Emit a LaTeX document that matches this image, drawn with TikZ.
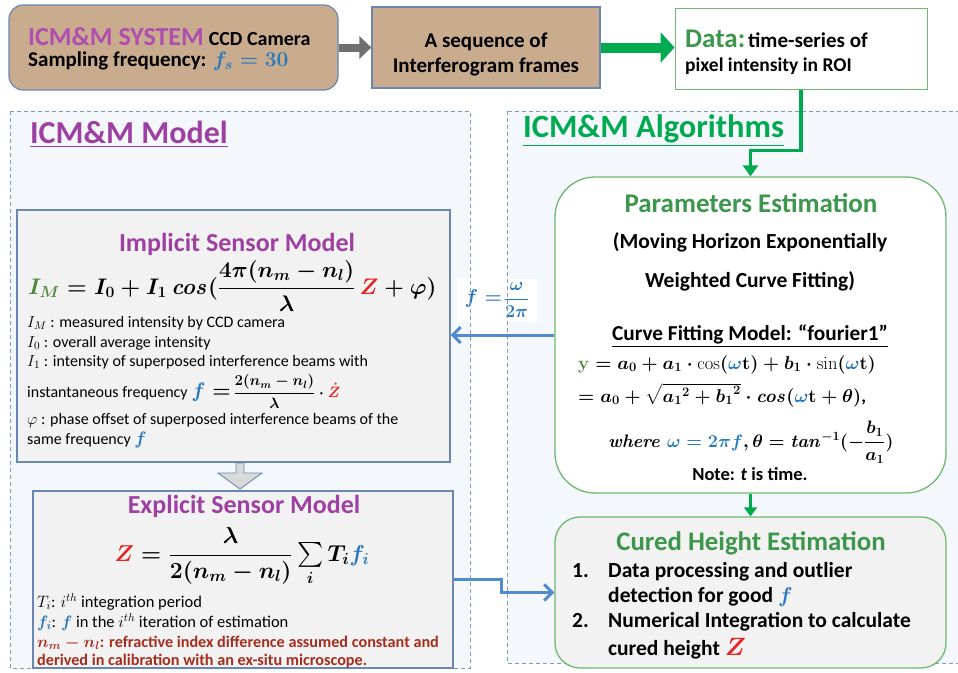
\RequirePackage{fix-cm}
\documentclass[tikz,border=0pt]{standalone}
\usepackage{amsmath}
\usepackage[no-math]{fontspec}
\setmainfont{Carlito}
\SetSymbolFont{operators}{normal}{OT1}{cmr}{bx}{n}
\SetSymbolFont{letters}{normal}{OML}{cmm}{b}{it}
\SetSymbolFont{symbols}{normal}{OMS}{cmsy}{b}{n}
\SetMathAlphabet{\mathit}{normal}{OT1}{cmr}{bx}{it}
\DeclareSymbolFont{rletters}{OML}{cmm}{m}{it}
\DeclareSymbolFontAlphabet{\mathri}{rletters}
\DeclareMathSymbol{\rvarphi}{\mathord}{rletters}{"27}
\DeclareSymbolFont{rops}{OT1}{cmr}{m}{n}
\DeclareSymbolFontAlphabet{\mathrr}{rops}
\usetikzlibrary{arrows.meta,calc}
\definecolor{tanf}{RGB}{201,171,142}
\definecolor{boxblue}{RGB}{105,135,175}
\definecolor{spurple}{RGB}{176,78,176}
\definecolor{mpurple}{RGB}{158,64,162}
\definecolor{dgreen}{RGB}{60,150,75}
\definecolor{bgreen}{RGB}{0,170,80}
\definecolor{boxgreen}{RGB}{110,185,110}
\definecolor{fblue}{RGB}{40,120,190}
\definecolor{arrblue}{RGB}{80,140,205}
\definecolor{zred}{RGB}{230,35,35}
\definecolor{dred}{RGB}{165,45,30}
\definecolor{mgreen}{RGB}{80,135,60}
\definecolor{regfill}{RGB}{244,248,252}
\definecolor{grayfill}{RGB}{242,242,242}
\definecolor{arrowfill}{RGB}{217,217,217}
\definecolor{dashcol}{RGB}{125,155,190}
\definecolor{arrgray}{RGB}{112,112,112}
\newcommand{\fsz}[1]{\fontsize{#1}{#1}\selectfont}
\begin{document}
\begin{tikzpicture}[x=1pt,y=-1pt,
  txt/.style={inner sep=0pt,anchor=base west},
  ctxt/.style={inner sep=0pt,anchor=base},
  tanbox/.style={draw=boxblue,fill=tanf,line width=1.2pt,inner sep=0pt},
  graybox/.style={draw=boxblue,fill=grayfill,line width=1.2pt,inner sep=0pt},
  greenbox/.style={draw=boxgreen,line width=1.3pt,inner sep=0pt},
  region/.style={draw=dashcol,line width=0.8pt,dash pattern=on 4pt off 3pt},
  font=\bfseries]
\useasboundingbox (0,0) rectangle (958,672);
% regions
\fill[regfill] (10,111) rectangle (470,668);
\fill[regfill] (507,111) rectangle (962,663);
\node[fill=white,inner sep=0pt,minimum width=80pt,minimum height=43pt] (flabel) at (497,300) {\color{fblue}{\fsz{20}$f=$}\,{\fsz{18}$\dfrac{\omega}{2\pi}$}};
\draw[region] (10,111) rectangle (470,668);
\draw[region] (507,111) rectangle (962,663);
% top boxes
\node[tanbox,rounded corners=14pt,minimum width=329pt,minimum height=85pt] (sys) at (173.5,47.5) {};
\node[txt] (sys1) at (28,45) {{\fsz{26}\color{spurple}ICM\&M SYSTEM}\hspace{5pt}{\fsz{20}CCD Camera}};
\node[txt] (sys2) at (28,66) {\fsz{21}Sampling frequency: {\color{fblue}$f_s=30$}};
\node[tanbox,minimum width=228pt,minimum height=81pt] (seq) at (486,47.5) {};
\node[ctxt] (seq1) at (486,47) {\fsz{21}A sequence of};
\node[ctxt] (seq2) at (486,72) {\fsz{21}Interferogram frames};
\node[greenbox,fill=white,line width=1pt,minimum width=252pt,minimum height=81pt] (data) at (801,48.5) {};
\node[txt] (data1) at (685,47) {{\fsz{27}\color{dgreen}Data:} \fsz{21}time-series of};
\node[txt] (data2) at (685,71) {\fsz{19.5}pixel intensity in ROI};
% titles
\node[txt] (mtitle) at (30,143) {\fsz{32}\color{mpurple}\underline{ICM\&M Model}};
\node[txt] (atitle) at (523,137) {\fsz{32.5}\color{bgreen}\underline{ICM\&M Algorithms}};
% implicit box
\node[graybox,minimum width=433pt,minimum height=252pt] (impl) at (233.5,336) {};
\node[ctxt] (ititle) at (237,251) {\fsz{26}\color{mpurple}Implicit Sensor Model};
\node[txt] (ieq) at (28,294) {\fsz{22.5}$\color{mgreen}I_M\color{black}=I_0+I_1\,\mathit{cos}(\dfrac{4\pi(n_m-n_l)}{\lambda}\,{\color{zred}Z}+\varphi)$};
\node[txt] (il1) at (27,327) {\mdseries\fsz{16}$\mathri{I}_{\mathri{M}}$ : measured intensity by CCD camera};
\node[txt] (il2) at (27,347) {\mdseries\fsz{16}$\mathri{I}_{\mathrr{0}}$ : overall average intensity};
\node[txt] (il3) at (27,366) {\mdseries\fsz{16}$\mathri{I}_{\mathrr{1}}$ : intensity of superposed interference beams with};
\node[txt] (il4) at (27,397) {\mdseries\fsz{16}instantaneous frequency {\fsz{21}${\color{fblue}f}=$}\,{\fsz{15}$\dfrac{2(n_m-n_l)}{\lambda}\cdot{\color{zred}\dot{Z}}$}};
\node[txt] (il5) at (27,424) {\mdseries\fsz{16}$\rvarphi$ : phase offset of superposed interference beams of the};
\node[txt] (il6) at (27,444) {\mdseries\fsz{16}same frequency {\fsz{18}\color{fblue}$f$}};
% gray block arrow
\draw[draw=boxblue,fill=arrowfill,line width=0.9pt]
  (236,463) -- (244,463) -- (244,473) -- (262,473) -- (240,489) -- (218,473) -- (236,473) -- cycle;
% explicit box
\node[graybox,minimum width=420pt,minimum height=177pt] (expl) at (243,579.5) {};
\node[ctxt] (etitle) at (244,513) {\fsz{26}\color{mpurple}Explicit Sensor Model};
\node[ctxt] (eeq) at (242,561) {\fsz{23}${\color{zred}Z}=\dfrac{\lambda}{2(n_m-n_l)}\sum\limits_i T_i{\color{fblue}f_i}$};
\node[txt] (el1) at (37,607) {\mdseries\fsz{16.5}$\mathri{T}_{\mathri{i}}$: $\mathri{i}^{\mathri{th}}$ integration period};
\node[txt] (el2) at (37,627) {\mdseries\fsz{16.5}{\color{fblue}$f_i$}: {\color{fblue}$f$} in the $\mathri{i}^{\mathri{th}}$ iteration of estimation};
\node[txt] (el3) at (37,647) {\fsz{16.2}\color{dred}$n_m-n_l$: refractive index difference assumed constant and};
\node[txt] (el4) at (37,665) {\fsz{16.2}\color{dred}derived in calibration with an ex-situ microscope.};
% parameters estimation
\node[greenbox,fill=white,rounded corners=40pt,minimum width=391pt,minimum height=316pt] (params) at (750.5,335) {};
\node[ctxt] (ptitle) at (751,212) {\fsz{27}\color{dgreen}Parameters Estimation};
\node[ctxt] (p1) at (750,248) {\fsz{21.5}(Moving Horizon Exponentially};
\node[ctxt] (p2) at (750,287) {\fsz{21.5}Weighted Curve Fitting)};
\node[ctxt] (p3) at (750,340) {\fsz{21.3}\underline{Curve Fitting Model: “fourier1”}};
\node[txt] (p4) at (578,369) {\fsz{18.5}${\color{mgreen}\mathbf{y}}=a_0+a_1\cdot\mathrr{cos}({\color{fblue}\omega}\mathbf{t})+b_1\cdot\mathrr{sin}({\color{fblue}\omega}\mathbf{t})$};
\node[txt] (p5) at (578,402) {\fsz{18.5}$=a_0+\sqrt{{a_1}^2+{b_1}^2}\cdot\mathit{cos}({\color{fblue}\omega}\mathbf{t}+\theta)$,};
\node[txt] (p6) at (608,447) {\fsz{18}$\mathit{where}\;{\color{fblue}\omega=2\pi f},\theta=\mathit{tan}^{-1}(-\dfrac{b_1}{a_1})$};
\node[ctxt] (p7) at (750,480) {\fsz{18.5}Note: \textit{t} is time.};
% cured height
\node[greenbox,fill=grayfill,rounded corners=25pt,minimum width=391pt,minimum height=151pt] (cured) at (750.5,592.5) {};
\node[ctxt] (ctitle) at (751,550) {\fsz{26.8}\color{dgreen}Cured Height Estimation};
\node[txt] (cn1) at (572,577) {\fsz{21.5}1.};
\node[txt] (c1) at (608,577) {\fsz{21.5}Data processing and outlier};
\node[txt] (c2) at (608,602) {\fsz{21.5}detection for good {\color{fblue}$f$}};
\node[txt] (cn2) at (572,627) {\fsz{21.5}2.};
\node[txt] (c3) at (608,627) {\fsz{21.5}Numerical Integration to calculate};
\node[txt] (c4) at (608,655) {\fsz{21.5}cured height {\fsz{25}\color{zred}$Z$}};
% connectors
\draw[arrgray,line width=8pt,-{Triangle[length=12pt,width=22pt]}] (sys.east) -- (seq.west);
\draw[bgreen,line width=10pt,-{Triangle[length=14pt,width=30pt]}] (seq.east) -- (seq.east -| data.west);
\draw[bgreen,line width=3.5pt,-{Triangle[length=11pt,width=15pt]}] (data.south) -- ++(0,61) -| (params.north);
\draw[bgreen,line width=3pt,-{Triangle[length=9pt,width=13pt]}] (params.south) -- (cured.north);
\draw[arrblue,line width=3pt,-{Straight Barb[length=8pt,width=16pt]}] (params.west) -- (params.west -| impl.east);
\draw[arrblue,line width=3pt,-{Straight Barb[length=8pt,width=16pt]}] (expl.east) -- ++(48,0) |- (cured.west);
\end{tikzpicture}
\end{document}
